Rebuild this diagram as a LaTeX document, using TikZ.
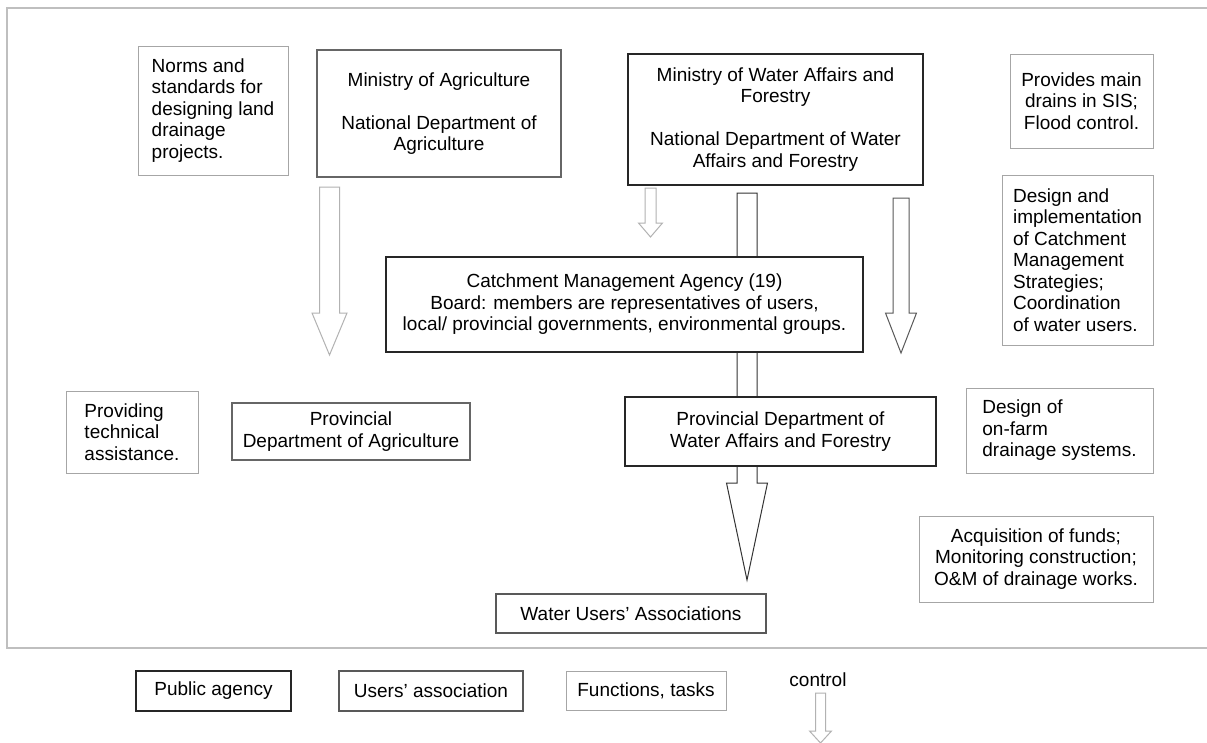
\documentclass[tikz,border=0pt]{standalone}
\usepackage{fontspec}
\setmainfont{Liberation Sans}
\usetikzlibrary{calc}

% hollow block arrow: style, top, tip, half shaft, half head, head length
\newcommand{\blockarrow}[6]{%
  \draw[#1] ($(#2)+(-#4,0)$) -- ($(#2)+(#4,0)$) -- ($(#3)+(#4,-#6)$) -- ($(#3)+(#5,-#6)$)
    -- (#3) -- ($(#3)+(-#5,-#6)$) -- ($(#3)+(-#4,-#6)$) -- cycle;}

\begin{document}
\begin{tikzpicture}[x=1pt, y=-1pt,
  every node/.style={font=\fontsize{19}{21.5}\selectfont, inner sep=0pt},
  agency/.style={draw=black!85, line width=1.5pt, fill=white, align=center},
  agriagency/.style={draw=black!60, line width=1.3pt, fill=white, align=center},
  wuabox/.style={draw=black!65, line width=1.2pt, fill=white, align=center},
  taskbox/.style={draw=black!35, line width=1pt, fill=white},
  hollow/.style={fill=white, line width=1pt}]
% Canvas and frame
\fill[white] (0,0) rectangle (1207,742);
\useasboundingbox (0,0) rectangle (1207,742);
\draw[black!25, line width=1.5pt] (1207,8) -| (7,648) -- (1207,648);

% Arrow ends
\coordinate (agritop) at (329.5,187);
\coordinate (agritip) at (329.5,355);
\coordinate (cmatop) at (650.5,188);
\coordinate (cmatip) at (650.5,237);
\coordinate (wuatop) at (747,193);
\coordinate (wuatip) at (747,580);
\coordinate (sidetop) at (901,198);
\coordinate (sidetip) at (901,353);
\coordinate (ctrltop) at (820.5,693);
\coordinate (ctrltip) at (820.5,743);

% Hollow arrows (boxes are drawn over them)
\blockarrow{hollow, draw=black!30}{agritop}{agritip}{10}{17.5}{42}
\blockarrow{hollow, draw=black!30}{cmatop}{cmatip}{5.5}{12}{14}
\blockarrow{hollow, draw=black!80}{wuatop}{wuatip}{10}{20.5}{97}
\blockarrow{hollow, draw=black!65}{sidetop}{sidetip}{8}{15.5}{40}

% Public agencies
\node[agriagency, minimum width=244pt, minimum height=127pt] (minagri) at (439,113.5)
  {Ministry of Agriculture\\[21.5pt]National Department of\\Agriculture};
\node[agency, minimum width=295pt, minimum height=131pt] (mwaf) at (775.5,119.5)
  {Ministry of Water Affairs and\\Forestry\\[21.5pt]National Department of Water\\Affairs and Forestry};
\node[agency, minimum width=477pt, minimum height=95pt] (cma) at (624.5,304.5)
  {Catchment Management Agency (19)\\Board: members are representatives of users,\\local/ provincial governments, environmental groups.};
\node[agriagency, minimum width=238pt, minimum height=57pt] (provagri) at (351,431.5)
  {Provincial\\Department of Agriculture};
\node[agency, minimum width=311pt, minimum height=69pt] (provwaf) at (780.5,431.5)
  {Provincial Department of\\Water Affairs and Forestry};
\node[wuabox, minimum width=270pt, minimum height=39pt] (wua) at (631,613.5)
  {Water Users' Associations};

% Functions, tasks
\node[taskbox, align=left, minimum width=150pt, minimum height=129pt] (norms) at (213,110.5)
  {Norms and\\standards for\\designing land\\drainage\\projects.};
\node[taskbox, align=center, minimum width=143pt, minimum height=94pt] (drains) at (1081.5,101)
  {Provides main\\drains in SIS;\\Flood control.};
\node[taskbox, align=left, minimum width=151pt, minimum height=170pt] (cmstrat) at (1077.5,260)
  {Design and\\implementation\\of Catchment\\Management\\Strategies;\\Coordination\\of water users.};
\node[taskbox, align=left, minimum width=132pt, minimum height=82pt] (techassist) at (132,432)
  {Providing\\technical\\assistance.};
\node[taskbox, align=left, minimum width=187pt, minimum height=85pt] (onfarm) at (1059.5,430.5)
  {Design of\\on-farm\\drainage systems.};
\node[taskbox, align=center, minimum width=234pt, minimum height=86pt] (funds) at (1036,559)
  {Acquisition of funds;\\Monitoring construction;\\O\&M of drainage works.};

% Legend
\node[agency, minimum width=155pt, minimum height=40pt] (legpublic) at (213.5,691) {Public agency};
\node[wuabox, minimum width=184pt, minimum height=40pt] (legusers) at (431,691) {Users' association};
\node[taskbox, minimum width=160pt, minimum height=39pt] (legtasks) at (646,690.5) {Functions, tasks};
\node (legcontrol) at (818,680) {control};
\blockarrow{hollow, draw=black!30}{ctrltop}{ctrltip}{5}{11}{12}

\end{tikzpicture}
\end{document}
